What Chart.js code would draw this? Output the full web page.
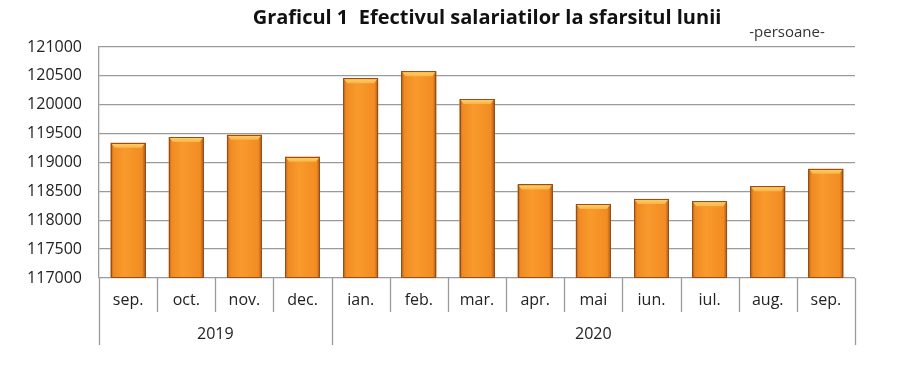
<!DOCTYPE html>
<html>
<head>
<meta charset="utf-8">
<script src="https://cdn.jsdelivr.net/npm/chart.js@4/dist/chart.umd.min.js"></script>
<style>
  body { margin: 0; background: #fff; }
  #wrap { width: 900px; height: 374px; }
</style>
</head>
<body>
<div id="wrap"><canvas id="chart" width="900" height="374"></canvas></div>
<script>
// data
const months = ["sep.", "oct.", "nov.", "dec.", "ian.", "feb.", "mar.", "apr.", "mai", "iun.", "iul.", "aug.", "sep."];
const employees = [119340, 119440, 119480, 119100, 120460, 120580, 120100, 118620, 118280, 118370, 118330, 118590, 118890];
const years = ["2019", "2020"];
const yearSpans = [4, 9]; // how many months fall in each year

const titleText = "Graficul 1  Efectivul salariatilor la sfarsitul lunii";
const unitText = "-persoane-";

const FONT = "'Open Sans', sans-serif";
const gridGray = "#9a9a9a";

// shading on top of the flat bars: rounded look + bevelled cap
const extras = {
  id: "extras",
  afterDatasetsDraw(chart) {
    const ctx = chart.ctx;
    const area = chart.chartArea;
    const meta = chart.getDatasetMeta(0);
    ctx.save();
    meta.data.forEach(bar => {
      const p = bar.getProps(["x", "y", "width", "base"], true);
      const l = p.x - p.width / 2, r = p.x + p.width / 2;
      const bottom = Math.min(p.base, area.bottom);
      const g = ctx.createLinearGradient(l, 0, r, 0);
      g.addColorStop(0, "#b25818");
      g.addColorStop(0.08, "#ef8a22");
      g.addColorStop(0.4, "#f99a2c");
      g.addColorStop(0.9, "#f28c22");
      g.addColorStop(1, "#a9531a");
      ctx.fillStyle = g;
      ctx.fillRect(l, p.y, p.width, bottom - p.y);

      // bevel at the top
      const b = 5, inset = 4;
      const h = ctx.createLinearGradient(0, p.y, 0, p.y + b);
      h.addColorStop(0, "#fdd36a");
      h.addColorStop(1, "#fab548");
      ctx.fillStyle = h;
      ctx.beginPath();
      ctx.moveTo(l + 1, p.y + 1);
      ctx.lineTo(r - 1, p.y + 1);
      ctx.lineTo(r - inset, p.y + b);
      ctx.lineTo(l + inset, p.y + b);
      ctx.closePath();
      ctx.fill();

      ctx.strokeStyle = "#94501c";
      ctx.lineWidth = 1;
      ctx.strokeRect(Math.round(l) + 0.5, Math.round(p.y) + 0.5, Math.round(p.width) - 1, Math.round(bottom - p.y) - 1);
    });
    ctx.restore();
  },
  afterDraw(chart) {
    const ctx = chart.ctx;
    const xs = chart.scales.x;
    const area = chart.chartArea;
    const catW = xs.width / months.length;

    ctx.save();
    // title
    ctx.fillStyle = "#111";
    ctx.textAlign = "center";
    ctx.textBaseline = "alphabetic";
    ctx.font = "bold 20px " + FONT;
    ctx.fillText(titleText, 487, 24);
    ctx.font = "15px " + FONT;
    ctx.fillStyle = "#333";
    ctx.fillText(unitText, 787, 37);

    // separators under the month labels
    ctx.strokeStyle = gridGray;
    ctx.lineWidth = 1.3;
    const yearStart = [0];
    yearSpans.reduce((acc, n) => { yearStart.push(acc + n); return acc + n; }, 0);
    for (let i = 0; i <= months.length; i++) {
      const bx = Math.round(xs.left + i * catW) + 0.5;
      const long = yearStart.includes(i);
      ctx.beginPath();
      ctx.moveTo(bx, area.bottom);
      ctx.lineTo(bx, area.bottom + (long ? 67 : 34));
      ctx.stroke();
    }

    // year labels
    ctx.fillStyle = "#222";
    ctx.font = "16px " + FONT;
    ctx.textBaseline = "middle";
    years.forEach((yr, k) => {
      const a = xs.left + yearStart[k] * catW;
      const b = xs.left + yearStart[k + 1] * catW;
      ctx.fillText(yr, (a + b) / 2, area.bottom + 56);
    });
    ctx.restore();
  }
};

new Chart(document.getElementById("chart"), {
  type: "bar",
  data: {
    labels: months,
    datasets: [{
      data: employees,
      backgroundColor: "#f7922f",
      borderWidth: 0,
      barPercentage: 0.6,
      categoryPercentage: 1
    }]
  },
  options: {
    responsive: false,
    animation: false,
    layout: { padding: { top: 47, right: 45, bottom: 0, left: 0 } },
    plugins: {
      legend: { display: false },
      tooltip: { enabled: false }
    },
    scales: {
      x: {
        grid: { display: false, drawTicks: false },
        border: { display: false },
        ticks: { color: "#222", font: { family: FONT, size: 16 }, padding: 13, maxRotation: 0, autoSkip: false },
        afterFit: s => { s.height = 96; }
      },
      y: {
        min: 117000,
        max: 121000,
        grid: { color: gridGray, lineWidth: 1.3, drawTicks: false },
        border: { display: true, color: gridGray, width: 1.3 },
        ticks: {
          stepSize: 500, color: "#222", font: { family: FONT, size: 16 }, padding: 17,
          callback: v => String(v)
        },
        afterFit: s => { s.width = 99; }
      }
    }
  },
  plugins: [extras]
});
</script>
</body>
</html>
